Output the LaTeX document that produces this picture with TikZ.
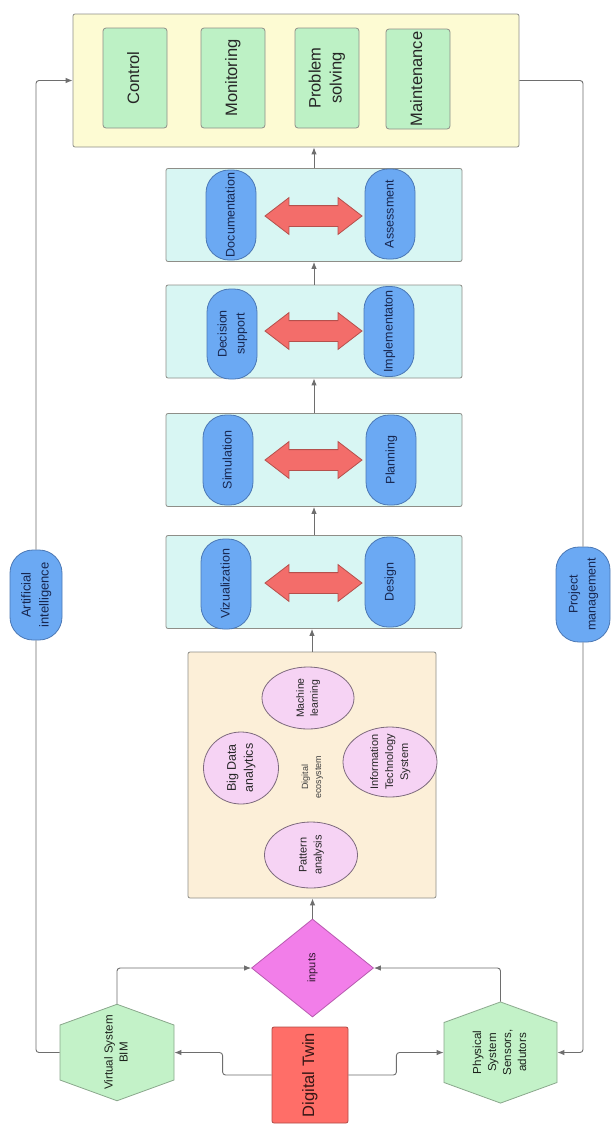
\documentclass[tikz,border=0pt]{standalone}
\usepackage{fontspec}
\setmainfont{Liberation Sans}
\usepackage{tikz}
\usetikzlibrary{shapes.geometric,shapes.symbols,shapes.arrows,arrows.meta}
\definecolor{DTPanel}{HTML}{FDFBD3}
\definecolor{DTEdge}{HTML}{8E8E88}
\definecolor{DTGreen}{HTML}{BDF1C5}
\definecolor{DTCyan}{HTML}{D8F6F3}
\definecolor{DTBlue}{HTML}{6BA9F3}
\definecolor{DTBlueEdge}{HTML}{4B78B5}
\definecolor{DTNavy}{HTML}{17264F}
\definecolor{DTRed}{HTML}{F36D6A}
\definecolor{DTRedEdge}{HTML}{B5504C}
\definecolor{DTPeach}{HTML}{FCEFD8}
\definecolor{DTPink}{HTML}{F6D3F4}
\definecolor{DTPinkEdge}{HTML}{7D6A7D}
\definecolor{DTMagenta}{HTML}{F27EE9}
\definecolor{DTMagentaEdge}{HTML}{B85AB0}
\definecolor{DTHex}{HTML}{C3F2C8}
\definecolor{DTHexEdge}{HTML}{8AA88C}
\definecolor{DTTwin}{HTML}{FF6E68}
\definecolor{DTTwinEdge}{HTML}{B04A45}
\definecolor{DTLine}{HTML}{6E6E6E}
\newcommand{\vlab}[1]{\rotatebox{90}{\begin{tabular}{@{}c@{}}#1\end{tabular}}}

\begin{document}
\begin{tikzpicture}[x=1pt,y=-1pt,
  panel/.style={draw=DTEdge,fill=DTPanel,line width=.8pt,rounded corners=2pt},
  task/.style={draw=DTEdge,fill=DTGreen,line width=.8pt,rounded corners=3pt,minimum width=64pt,minimum height=100pt,inner sep=0pt,text=black!85,font=\fontsize{16.5}{21}\selectfont},
  band/.style={draw=DTEdge,fill=DTCyan,line width=.8pt,rounded corners=2pt,minimum width=296pt,minimum height=93pt},
  pill/.style={draw=DTBlueEdge,fill=DTBlue,line width=.8pt,rounded corners=23pt,minimum width=50pt,minimum height=90pt,inner sep=0pt,text=DTNavy,font=\fontsize{12.5}{18}\selectfont},
  side/.style={pill,minimum width=52pt,minimum height=90pt,font=\fontsize{13}{18}\selectfont},
  swap/.style={double arrow,draw=DTRedEdge,fill=DTRed,line width=.8pt,minimum height=97pt,inner xsep=0pt,inner ysep=10pt,double arrow head extend=8pt,double arrow tip angle=75},
  eco/.style={draw=DTEdge,fill=DTPeach,line width=.8pt,rounded corners=2pt},
  idea/.style={ellipse,draw=DTPinkEdge,fill=DTPink,line width=.8pt,inner sep=0pt},
  idealab/.style={text=black!85},
  gate/.style={diamond,draw=DTMagentaEdge,fill=DTMagenta,line width=.8pt,minimum width=122pt,minimum height=98pt,inner sep=0pt,text=black!75!DTMagentaEdge,font=\fontsize{11}{14}\selectfont},
  hexa/.style={signal,signal to=north and south,signal pointer angle=140,draw=DTHexEdge,fill=DTHex,line width=.8pt,inner sep=0pt},
  hexlab/.style={text=black!80!DTHexEdge,font=\fontsize{11.6}{15}\selectfont},
  twin/.style={draw=DTTwinEdge,fill=DTTwin,line width=.8pt,rounded corners=2pt,minimum width=76pt,minimum height=96pt,inner sep=0pt,text=black!70!DTTwinEdge,font=\fontsize{16.5}{20}\selectfont},
  wire/.style={draw=DTLine,line width=.9pt,rounded corners=3pt},
  link/.style={wire,-{Latex[length=7pt,width=5.5pt]}}]
\path[use as bounding box] (0,0) rectangle (613,1125);
\fill[white] (0,0) rectangle (613,1125);

\node[panel,minimum width=446pt,minimum height=133pt] (hub) at (296,80.5) {};
\node[task] (ctrl) at (135,78) {\vlab{Control}};
\node[task] (mon) at (233,78) {\vlab{Monitoring}};
\node[task] (prob) at (327,78) {\vlab{Problem\\solving}};
\node[task] (maint) at (418,79) {\vlab{Maintenance}};

\node[band] (b4) at (314,215) {};
\node[band] (b3) at (314,331.5) {};
\node[band] (b2) at (314,460) {};
\node[band] (b1) at (314,582) {};
\node[pill] (doc) at (231,215) {\vlab{Documentation}};
\node[pill] (ass) at (390,214) {\vlab{Assessment}};
\node[pill] (dec) at (232,334) {\vlab{Decision\\support}};
\node[pill] (imp) at (389,331.5) {\vlab{Implementaton}};
\node[pill] (sim) at (228,460) {\vlab{Simulation}};
\node[pill] (plan) at (391,460) {\vlab{Planning}};
\node[pill] (viz) at (226,584) {\vlab{Vizualization}};
\node[pill] (des) at (390,582) {\vlab{Design}};
\node[swap] (sw4) at (313.5,216) {};
\node[swap] (sw3) at (313.5,331) {};
\node[swap] (sw2) at (313.5,460) {};
\node[swap] (sw1) at (313.5,583) {};

\node[eco,minimum width=248pt,minimum height=246pt] (eco) at (312,775) {};
\node[idea,minimum width=92pt,minimum height=62pt,label={[idealab,font=\fontsize{10.5}{14}\selectfont]center:\vlab{Machine\\learning}}] (ml) at (308,698) {};
\node[idea,minimum width=75pt,minimum height=72pt,label={[idealab,font=\fontsize{12.5}{17}\selectfont]center:\vlab{Big Data\\analytics}}] (bda) at (241,768) {};
\node[idea,minimum width=94pt,minimum height=70pt,label={[idealab,font=\fontsize{11}{15}\selectfont]center:\vlab{Information\\Technology\\System}}] (its) at (390,762) {};
\node[idea,minimum width=93pt,minimum height=66pt,label={[idealab,font=\fontsize{11}{15}\selectfont]center:\vlab{Pattern\\analysis}}] (pat) at (311,855) {};
\node[text=black!75,font=\fontsize{9}{13}\selectfont] (ecolab) at (312,777) {\vlab{Digital\\ecosystem}};

\node[gate] (inp) at (312.5,968) {\vlab{inputs}};
\node[hexa,minimum width=114pt,minimum height=55pt,label={[hexlab]center:\vlab{Virtual System\\BIM}}] (vsys) at (117,1052.5) {};
\node[hexa,minimum width=113pt,minimum height=60pt,label={[hexlab]center:\vlab{Physical\\System\\Sensors,\\adutors}}] (psys) at (500.5,1052.5) {};
\node[twin] (dt) at (310,1075) {\vlab{Digital Twin}};

\node[side] (ai) at (36,595) {\vlab{Artificial\\intelligence}};
\node[side,minimum width=54pt,minimum height=95pt,font=\fontsize{12.5}{18}\selectfont] (pm) at (583,594.5) {\vlab{Project\\management}};

\draw[link] (b4.north) -- (b4.north |- hub.south);
\draw[link] (b3.north) -- (b4.south);
\draw[link] (b2.north) -- (b3.south);
\draw[link] (b1.north) -- (b2.south);
\draw[link] (eco.north) -- (eco.north |- b1.south);
\draw[link] (inp.north) -- (inp.north |- eco.south);
\draw[link] (vsys.north) |- (inp.west);
\draw[link] (psys.north) |- (inp.east);
\draw[link] (dt.west) -- ++(-49,0) |- (vsys.east);
\draw[link] (dt.east) -- ++(48,0) |- (psys.west);
\draw[wire] (vsys.west) -| (ai.south);
\draw[link] (ai.north) |- (hub.west);
\draw[wire] (hub.east) -| (pm.north);
\draw[link] (pm.south) |- (psys.east);
\end{tikzpicture}
\end{document}
